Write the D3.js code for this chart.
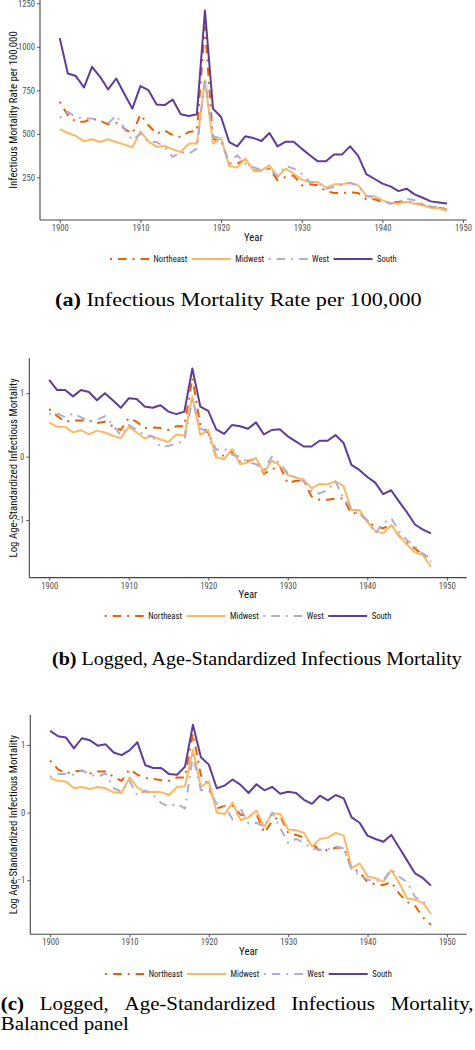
<!DOCTYPE html>
<html><head><meta charset="utf-8">
<script src="https://cdn.jsdelivr.net/npm/d3@7/dist/d3.min.js"></script>
<style>
body{margin:0;background:#fff}
svg{display:block}
</style>
</head><body>
<svg id="chart" width="475" height="1050"></svg>
<script>
// ---------------- data ----------------
const years = [1900,1901,1902,1903,1904,1905,1906,1907,1908,1909,
               1910,1911,1912,1913,1914,1915,1916,1917,1918,1919,
               1920,1921,1922,1923,1924,1925,1926,1927,1928,1929,
               1930,1931,1932,1933,1934,1935,1936,1937,1938,1939,
               1940,1941,1942,1943,1944,1945,1946,1947,1948];
const regions = ["Northeast","Midwest","West","South"];
const xTickValues = [1900,1910,1920,1930,1940,1950];

// (a) Infectious mortality rate per 100,000
const rateNortheast = [684,607,569,569,588,574,555,563,530,501, 611,549,501,520,492,482,511,517,1116,470, 460,329,329,352,290,290,300,233,252,261, 204,210,204,171,160,160,164,160,124,124, 108,108,108,112,102,91,79,75,64];
const rateMidwest   = [527,505,488,457,469,453,469,453,438,423, 513,457,425,430,411,396,444,444,808,444, 476,315,306,359,290,290,319,252,300,271, 237,223,223,190,210,210,219,204,145,141, 118,102,98,110,98,89,75,71,60];
const rateWest      = [592,626,597,588,588,574,559,607,530,463, 501,453,453,425,367,396,386,415,818,486, 472,329,377,329,309,290,300,256,315,300, 271,223,217,185,194,208,217,204,141,137, 118,98,112,127,118,98,83,79,70];
const rateSouth     = [1050,847,832,766,885,828,755,818,730,645, 774,751,668,665,697,613,603,613,1208,645, 597,453,428,486,476,459,505,428,455,455, 415,377,342,342,382,382,428,373,269,242, 214,198,171,185,152,133,112,106,100];
const rateTicks = [250,500,750,1000,1250];

// (b) Log age-standardized infectious mortality
const logNortheast = [0.75,0.64,0.55,0.57,0.57,0.57,0.53,0.55,0.48,0.42, 0.61,0.55,0.45,0.46,0.45,0.42,0.48,0.48,1.24,0.50, 0.38,-0.01,0.02,0.08,-0.08,-0.07,-0.03,-0.27,-0.20,-0.15, -0.42,-0.38,-0.38,-0.63,-0.68,-0.68,-0.66,-0.66,-0.90,-0.88, -1.02,-1.10,-1.13,-1.07,-1.25,-1.35,-1.45,-1.55,-1.65];
const logMidwest   = [0.54,0.47,0.47,0.38,0.42,0.35,0.41,0.38,0.33,0.29, 0.47,0.38,0.29,0.32,0.27,0.23,0.35,0.33,0.95,0.34, 0.42,-0.01,-0.04,0.12,-0.12,-0.09,-0.02,-0.25,-0.06,-0.14, -0.29,-0.33,-0.36,-0.50,-0.43,-0.44,-0.39,-0.46,-0.84,-0.84, -1.03,-1.17,-1.21,-1.08,-1.24,-1.39,-1.51,-1.55,-1.74];
const logWest      = [0.67,0.68,0.62,0.68,0.62,0.55,0.58,0.64,0.50,0.34, 0.50,0.42,0.34,0.32,0.15,0.17,0.20,0.26,0.89,0.45, 0.37,0.11,0.13,0.03,0.00,-0.08,-0.12,-0.21,0.00,-0.11, -0.26,-0.33,-0.39,-0.55,-0.58,-0.53,-0.39,-0.66,-0.82,-0.91, -1.00,-1.21,-1.05,-0.97,-1.18,-1.32,-1.42,-1.53,-1.61];
const logSouth     = [1.21,1.05,1.05,0.95,1.05,1.02,0.89,1.00,0.89,0.77, 0.92,0.91,0.79,0.77,0.81,0.71,0.67,0.71,1.39,0.79, 0.72,0.43,0.36,0.50,0.48,0.44,0.54,0.35,0.42,0.43, 0.32,0.24,0.16,0.16,0.25,0.25,0.34,0.22,-0.13,-0.21, -0.32,-0.41,-0.59,-0.53,-0.71,-0.88,-1.07,-1.15,-1.21];

// (c) Log age-standardized infectious mortality, balanced panel
const balNortheast = [0.77,0.64,0.58,0.61,0.62,0.58,0.61,0.61,0.53,0.47, 0.64,0.56,0.51,0.50,0.48,0.47,0.52,0.52,1.17,0.55, 0.40,0.06,0.10,0.10,-0.03,-0.05,-0.02,-0.30,-0.12,-0.05, -0.30,-0.33,-0.37,-0.45,-0.57,-0.55,-0.52,-0.52,-0.82,-0.88, -1.03,-1.06,-1.07,-1.03,-1.20,-1.32,-1.38,-1.55,-1.66];
const balMidwest   = [0.51,0.47,0.46,0.36,0.38,0.35,0.38,0.36,0.30,0.29, 0.52,0.37,0.30,0.31,0.30,0.26,0.38,0.39,0.93,0.38, 0.46,0.00,-0.02,0.15,-0.11,-0.07,0.03,-0.21,-0.01,-0.02, -0.25,-0.26,-0.30,-0.50,-0.39,-0.37,-0.30,-0.34,-0.82,-0.75, -0.94,-0.97,-1.02,-0.85,-1.04,-1.27,-1.29,-1.34,-1.50];
const balWest      = [0.53,0.57,0.57,0.56,0.63,0.56,0.53,0.58,0.36,0.31, 0.47,0.25,0.33,0.26,0.14,0.09,0.13,0.06,0.85,0.33, 0.33,0.13,0.09,-0.10,0.06,-0.16,-0.15,-0.21,0.00,-0.23, -0.45,-0.39,-0.45,-0.53,-0.55,-0.54,-0.50,-0.53,-0.85,-0.92, -0.99,-1.02,-1.00,-0.84,-0.95,-1.03,-1.25,-1.32,-1.39];
const balSouth     = [1.21,1.13,1.11,0.95,1.10,1.07,0.99,1.01,0.89,0.85, 0.92,1.04,0.70,0.66,0.66,0.57,0.56,0.68,1.30,0.82, 0.71,0.36,0.40,0.49,0.41,0.29,0.42,0.33,0.38,0.28, 0.31,0.29,0.19,0.13,0.25,0.18,0.26,0.21,-0.07,-0.15, -0.34,-0.39,-0.43,-0.33,-0.52,-0.71,-0.90,-0.97,-1.08];
const logTicks = [-1,0,1];

// ---------------- styles / layout ----------------
const colors = ["#e66101","#fdb863","#b2abd2","#5e3c99"];
const dashes = ["2,6,8.5,6", null, "2,6,8.5,6", null];
const sans = "'Liberation Sans Narrow','Roboto Condensed',Roboto,sans-serif";
const serif = "'Liberation Serif','DejaVu Serif',serif";

const panels = [
  { series:[rateNortheast,rateMidwest,rateWest,rateSouth], yTicks:rateTicks,
    yTitle:"Infectious Mortality Rate per 100,000",
    left:40, right:466.7, top:0, bottom:220, xDomain:[1897.55,1950.45], yDomain:[5,1269],
    legendY:259, caption:{label:"(a)", text:"Infectious Mortality Rate per 100,000", x0:55, x1:422, y:306} },
  { series:[logNortheast,logMidwest,logWest,logSouth], yTicks:logTicks,
    yTitle:"Log Age-Standardized Infectious Mortality",
    left:29.3, right:466.7, top:358.2, bottom:577.6, xDomain:[1897.5,1952.5], yDomain:[-1.907,1.552],
    legendY:616, caption:{label:"(b)", text:"Logged, Age-Standardized Infectious Mortality", x0:52, x1:462, y:665} },
  { series:[balNortheast,balMidwest,balWest,balSouth], yTicks:logTicks,
    yTitle:"Log Age-Standardized Infectious Mortality",
    left:30.3, right:466.7, top:715, bottom:934.3, xDomain:[1897.5,1952.5], yDomain:[-1.80,1.444],
    legendY:974, caption:null }
];

const svg = d3.select("#chart");

panels.forEach(p => {
  const g = svg.append("g");
  const x = d3.scaleLinear().domain(p.xDomain).range([p.left, p.right]);
  const y = d3.scaleLinear().domain(p.yDomain).range([p.bottom, p.top]);

  // axes
  const xAxis = g.append("g").attr("transform", `translate(0,${p.bottom})`)
    .call(d3.axisBottom(x).tickValues(xTickValues).tickFormat(d3.format("d")).tickSize(3).tickPadding(2));
  const yAxis = g.append("g").attr("transform", `translate(${p.left},0)`)
    .call(d3.axisLeft(y).tickValues(p.yTicks).tickFormat(d3.format("d")).tickSize(3).tickPadding(2));
  [xAxis, yAxis].forEach(ax => {
    ax.select(".domain").attr("stroke", "#444").attr("stroke-width", 1.1);
    ax.selectAll(".tick line").attr("stroke", "#444").attr("stroke-width", 0.9);
    ax.selectAll(".tick text").attr("fill", "#4d4d4d").style("font-family", sans).style("font-size", "8.6px");
  });
  xAxis.selectAll(".domain").attr("d", `M${p.left},0H${p.right}`);
  yAxis.selectAll(".domain").attr("d", `M0,${p.top}V${p.bottom}`);

  // axis titles
  g.append("text").attr("x", (p.left + p.right) / 2).attr("y", p.bottom + 20.5)
    .attr("text-anchor", "middle").style("font-family", sans).style("font-size", "10.8px")
    .attr("fill", "#111").text("Year");
  g.append("text").attr("transform", `translate(16.5,${(p.top + p.bottom) / 2}) rotate(-90)`)
    .attr("text-anchor", "middle").style("font-family", sans).style("font-size", "10.8px")
    .attr("fill", "#111").text(p.yTitle);

  // lines
  const line = d3.line().x((d, i) => x(years[i])).y(d => y(d));
  p.series.forEach((s, k) => {
    g.append("path").datum(s).attr("d", line)
      .attr("fill", "none").attr("stroke", colors[k]).attr("stroke-width", 2)
      .attr("stroke-linejoin", "round")
      .attr("stroke-dasharray", dashes[k]);
  });

  // legend
  const lg = g.append("g");
  let cx = 0;
  regions.forEach((r, k) => {
    lg.append("line").attr("x1", cx).attr("x2", cx + 39).attr("y1", 0).attr("y2", 0)
      .attr("stroke", colors[k]).attr("stroke-width", 1.8).attr("stroke-dasharray", dashes[k]);
    const t = lg.append("text").attr("x", cx + 43.5).attr("y", 0).attr("dy", "0.34em")
      .style("font-family", sans).style("font-size", "8.6px").attr("fill", "#111").text(r);
    cx += 43.5 + t.node().getComputedTextLength() + 4.5;
  });
  const lw = cx - 4.5;
  lg.attr("transform", `translate(${(p.left + p.right) / 2 - lw / 2},${p.legendY})`);

  // caption
  if (p.caption) {
    const c = p.caption;
    const ct = svg.append("text").attr("x", 0).attr("y", 0)
      .style("font-family", serif).style("font-size", "19px").attr("fill", "#000");
    ct.append("tspan").style("font-weight", "bold").text(c.label + " ");
    ct.append("tspan").text(c.text);
    const w = ct.node().getComputedTextLength();
    const k = (c.x1 - c.x0) / w;
    ct.attr("transform", `translate(${c.x0},${c.y}) scale(${k},1)`);
  }
});

// caption (c): justified first line + second line
(function () {
  const words = [["(c)", true], ["Logged,", false], ["Age-Standardized", false], ["Infectious", false], ["Mortality,", false]];
  const x0 = 0.7, x1 = 473.5, yy = 1010, k = 1.1;
  const nodes = words.map(([w, b]) => {
    const t = svg.append("text").style("font-family", serif).style("font-size", "19px")
      .style("font-weight", b ? "bold" : "normal").attr("fill", "#000").text(w);
    return t;
  });
  const widths = nodes.map(n => n.node().getComputedTextLength() * k);
  const total = d3.sum(widths);
  const gap = (x1 - x0 - total) / (words.length - 1);
  let cx = x0;
  nodes.forEach((n, i) => {
    n.attr("transform", `translate(${cx},${yy}) scale(${k},1)`);
    cx += widths[i] + gap;
  });
  svg.append("text").attr("transform", `translate(${x0},1030) scale(${k},1)`)
    .style("font-family", serif).style("font-size", "19px").attr("fill", "#000").text("Balanced panel");
})();
</script>
</body></html>
